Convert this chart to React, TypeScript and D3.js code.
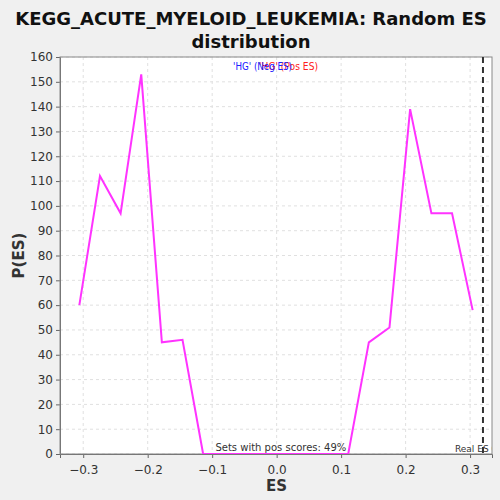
import * as d3 from "d3";
import { useEffect, useRef } from "react";

// ES bins and P(ES) values
const esBins = [-0.306, -0.274, -0.242, -0.21, -0.178, -0.146, -0.114, -0.082, -0.049, -0.017,
  0.015, 0.047, 0.079, 0.111, 0.143, 0.175, 0.207, 0.24, 0.272, 0.304];
const pValues = [60, 112, 97, 153, 45, 46, 0, 0, 0, 0, 0, 0, 0, 0, 45, 51, 139, 97, 97, 58];
const xTicks = [-0.3, -0.2, -0.1, 0.0, 0.1, 0.2, 0.3];
const yTicks = [0, 10, 20, 30, 40, 50, 60, 70, 80, 90, 100, 110, 120, 130, 140, 150, 160];
const realES = 0.32;
const titleLines = ["KEGG_ACUTE_MYELOID_LEUKEMIA: Random ES", "distribution"];

const FONT = "DejaVu Sans, sans-serif";

const App = () => {
  const chartRef = useRef<SVGSVGElement>(null);

  useEffect(() => {
    document.body.style.margin = "0";
    const width = 500;
    const height = 500;
    const margin = { top: 57, bottom: 46, left: 60, right: 8 };

    const svg = d3.select(chartRef.current);
    svg.selectAll("*").remove();

    svg.append("rect").attr("width", width).attr("height", height).style("fill", "#f0f0f0");

    const x = d3.scaleLinear().domain([-0.336, 0.334]).range([margin.left, width - margin.right]);
    const y = d3.scaleLinear().domain([0, 160]).range([height - margin.bottom, margin.top]);

    // plot background
    svg.append("rect")
      .attr("x", margin.left).attr("y", margin.top)
      .attr("width", width - margin.left - margin.right)
      .attr("height", height - margin.top - margin.bottom)
      .style("fill", "white");

    svg.append("clipPath").attr("id", "plot-clip")
      .append("rect")
      .attr("x", margin.left).attr("y", margin.top)
      .attr("width", width - margin.left - margin.right)
      .attr("height", height - margin.top - margin.bottom);

    // grid
    const grid = svg.append("g");
    grid.selectAll(".gx").data(xTicks).enter().append("line")
      .attr("x1", d => x(d)).attr("x2", d => x(d))
      .attr("y1", margin.top).attr("y2", height - margin.bottom)
      .style("stroke", "#e0e0e0").style("stroke-dasharray", "3,3");
    grid.selectAll(".gy").data(yTicks).enter().append("line")
      .attr("x1", margin.left).attr("x2", width - margin.right)
      .attr("y1", d => y(d)).attr("y2", d => y(d))
      .style("stroke", "#e0e0e0").style("stroke-dasharray", "3,3");

    // axes
    const xAxis = d3.axisBottom(x).tickValues(xTicks).tickFormat(d3.format(".1f")).tickSizeOuter(0).tickSize(4);
    const gx = svg.append("g")
      .attr("transform", `translate(0, ${height - margin.bottom})`)
      .call(xAxis);
    gx.selectAll("text").style("font-family", FONT).style("font-size", "12px").style("fill", "#333").attr("dy", "1.1em");

    const yAxis = d3.axisLeft(y).tickValues(yTicks).tickSizeOuter(0).tickSize(4);
    const gy = svg.append("g")
      .attr("transform", `translate(${margin.left}, 0)`)
      .call(yAxis);
    gy.selectAll("text").style("font-family", FONT).style("font-size", "12px").style("fill", "#333");
    svg.selectAll(".domain").style("stroke", "#666");
    svg.selectAll(".tick line").style("stroke", "#666");

    // plot border (right/top)
    svg.append("rect")
      .attr("x", margin.left).attr("y", margin.top)
      .attr("width", width - margin.left - margin.right)
      .attr("height", height - margin.top - margin.bottom)
      .style("fill", "none").style("stroke", "#888");

    const plot = svg.append("g").attr("clip-path", "url(#plot-clip)");

    // real ES line
    plot.append("line")
      .attr("x1", x(realES)).attr("x2", x(realES))
      .attr("y1", margin.top).attr("y2", height - margin.bottom)
      .style("stroke", "#333").style("stroke-width", 2).style("stroke-dasharray", "6,4");

    plot.append("text")
      .attr("x", x(realES) - 28).attr("y", height - margin.bottom - 2)
      .style("font-family", FONT).style("font-size", "9px").style("fill", "#333")
      .text("Real ES 0.32");

    plot.append("text")
      .attr("x", x(-0.095)).attr("y", height - margin.bottom - 3)
      .style("font-family", FONT).style("font-size", "10px").style("fill", "#333")
      .text("Sets with pos scores: 49%");

    // distribution line
    const line = d3.line<number>()
      .x((_, i) => x(esBins[i]))
      .y(d => y(d));
    plot.append("path")
      .datum(pValues)
      .attr("d", line)
      .style("fill", "none").style("stroke", "#ff33ff").style("stroke-width", 2);

    // legend (blue entry drawn over the red one, as in the original)
    svg.append("text")
      .attr("x", 259).attr("y", 70)
      .attr("textLength", 59).attr("lengthAdjust", "spacingAndGlyphs")
      .style("font-family", FONT).style("font-size", "10px").style("fill", "#ff2020")
      .text("'HG' (Pos ES)");
    svg.append("text")
      .attr("x", 233).attr("y", 70)
      .attr("textLength", 59).attr("lengthAdjust", "spacingAndGlyphs")
      .style("font-family", FONT).style("font-size", "10px").style("fill", "#2020ff")
      .text("'HG' (Neg ES)");

    // title
    svg.selectAll(".title").data(titleLines).enter().append("text")
      .attr("x", 251).attr("y", (_, i) => 25 + i * 23)
      .attr("text-anchor", "middle")
      .style("font-family", FONT).style("font-weight", "bold").style("font-size", "18px").style("fill", "#111")
      .text(d => d);

    // axis labels
    svg.append("text")
      .attr("x", x(0)).attr("y", 491)
      .attr("text-anchor", "middle")
      .style("font-family", FONT).style("font-weight", "bold").style("font-size", "15px").style("fill", "#333")
      .text("ES");
    svg.append("text")
      .attr("transform", `translate(24, ${(margin.top + height - margin.bottom) / 2}) rotate(-90)`)
      .attr("text-anchor", "middle")
      .style("font-family", FONT).style("font-weight", "bold").style("font-size", "15px").style("fill", "#333")
      .text("P(ES)");
  }, []);

  return (
    <svg ref={chartRef} width={500} height={500} style={{ display: "block" }}></svg>
  );
};

export default App;
